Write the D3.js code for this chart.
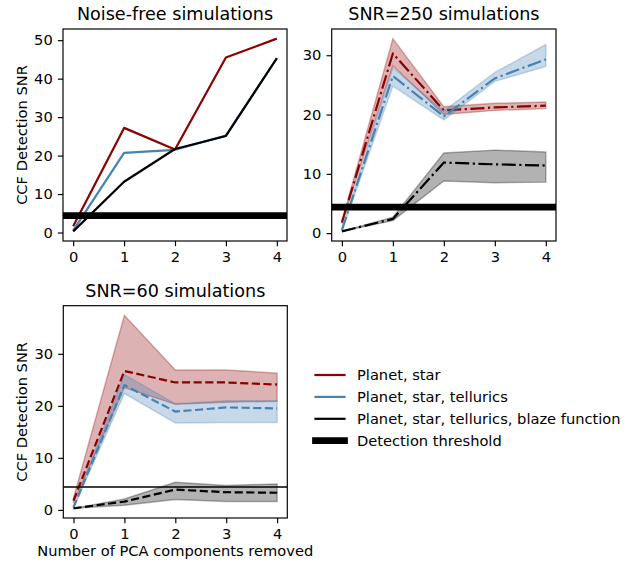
<!DOCTYPE html>
<html>
<head>
<meta charset="utf-8">
<script src="https://cdn.jsdelivr.net/npm/d3@7"></script>
<style>
  body { margin: 0; background: #fff; }
  svg text { font-family: "DejaVu Sans", sans-serif; fill: #000; }
</style>
</head>
<body>
<div id="chart"></div>
<script>
// data
const components = [0, 1, 2, 3, 4];
const threshold = 4.4;

// noise-free
const nfStar  = [1.6, 27.2, 21.6, 45.5, 50.4];
const nfTell  = [0.5, 20.7, 21.5, 25.2, 45.3];
const nfBlaze = [0.3, 13.2, 21.7, 25.1, 45.3];

// SNR=250 (mean, low, high)
const s250Star    = [1.8, 30.3, 20.7, 21.2, 21.5];
const s250StarLo  = [1.6, 28.2, 20.0, 20.7, 21.0];
const s250StarHi  = [2.0, 32.8, 21.3, 21.9, 22.1];
const s250Tell    = [0.5, 26.5, 19.7, 26.1, 29.3];
const s250TellLo  = [0.4, 24.8, 19.1, 25.6, 28.1];
const s250TellHi  = [0.6, 27.9, 20.6, 27.1, 31.8];
const s250Blaze   = [0.3, 2.4, 11.9, 11.6, 11.4];
const s250BlazeLo = [0.3, 2.1, 8.8, 8.5, 8.6];
const s250BlazeHi = [0.3, 2.7, 13.5, 14.0, 13.7];

// SNR=60 (mean, low, high)
const s60Star    = [1.8, 26.7, 24.5, 24.5, 24.1];
const s60StarLo  = [1.3, 23.5, 20.3, 20.7, 20.9];
const s60StarHi  = [2.3, 37.4, 26.9, 26.9, 26.3];
const s60Tell    = [0.5, 24.0, 18.9, 19.7, 19.5];
const s60TellLo  = [0.4, 22.4, 16.7, 16.8, 16.8];
const s60TellHi  = [0.6, 26.0, 20.4, 21.0, 21.0];
const s60Blaze   = [0.3, 1.6, 3.9, 3.4, 3.3];
const s60BlazeLo = [0.3, 0.9, 2.0, 1.6, 1.6];
const s60BlazeHi = [0.3, 2.1, 5.3, 4.7, 5.0];

const seriesNames = ["Planet, star", "Planet, star, tellurics", "Planet, star, tellurics, blaze function"];
const seriesColors = ["#8b0000", "#4682b4", "#000000"];

const W = 633, H = 563;
const svg = d3.select("#chart").append("svg")
    .attr("width", W).attr("height", H);

const px = 1.465; // pt -> px
const lw = 1.5 * px;
const fs = 10 * px, fsTitle = 12 * px;

const panels = [
    { title: "Noise-free simulations", box: [63, 287, 29, 241], yTicks: [0, 10, 20, 30, 40, 50],
      dash: null, ylabel: true, xlabel: false, thick: true,
      lines: [nfStar, nfTell, nfBlaze], bands: null },
    { title: "SNR=250 simulations", box: [331.7, 556, 29, 241], yTicks: [0, 10, 20, 30],
      dash: [6.4, 1.6, 1, 1.6].map(d => d * lw), ylabel: false, xlabel: false, thick: true,
      lines: [s250Star, s250Tell, s250Blaze],
      bands: [[s250StarLo, s250StarHi], [s250TellLo, s250TellHi], [s250BlazeLo, s250BlazeHi]] },
    { title: "SNR=60 simulations", box: [63.3, 287.3, 305.7, 518], yTicks: [0, 10, 20, 30],
      dash: [3.7, 1.6].map(d => d * lw), ylabel: true, xlabel: true, thick: false,
      lines: [s60Star, s60Tell, s60Blaze],
      bands: [[s60StarLo, s60StarHi], [s60TellLo, s60TellHi], [s60BlazeLo, s60BlazeHi]] }
];

panels.forEach(p => {
    const [l, r, t, b] = p.box;
    const x = d3.scaleLinear().domain([-0.2, 4.2]).range([l, r]);

    let all = p.lines.flat();
    if (p.bands) p.bands.forEach(bd => { all = all.concat(bd[0], bd[1]); });
    const [mn, mx] = d3.extent(all);
    const m = (mx - mn) * 0.05;
    const y = d3.scaleLinear().domain([mn - m, mx + m]).range([b, t]);

    const g = svg.append("g");
    const clipId = "clip" + Math.round(l) + Math.round(t);
    g.append("clipPath").attr("id", clipId)
        .append("rect").attr("x", l).attr("y", t).attr("width", r - l).attr("height", b - t);
    const plot = g.append("g").attr("clip-path", `url(#${clipId})`);

    const area = d3.area().x((d, i) => x(components[i])).y0(d => y(d[0])).y1(d => y(d[1]));
    const line = d3.line().x((d, i) => x(components[i])).y(d => y(d));

    p.lines.forEach((vals, k) => {
        if (p.bands) {
            const lo = p.bands[k][0], hi = p.bands[k][1];
            plot.append("path")
                .datum(lo.map((v, i) => [v, hi[i]]))
                .attr("d", area)
                .attr("fill", seriesColors[k]).attr("fill-opacity", 0.3)
                .attr("stroke", seriesColors[k]).attr("stroke-opacity", 0.3)
                .attr("stroke-width", px);
        }
        plot.append("path")
            .datum(vals)
            .attr("d", line)
            .attr("fill", "none")
            .attr("stroke", seriesColors[k])
            .attr("stroke-width", lw)
            .attr("stroke-linejoin", "round")
            .attr("stroke-dasharray", p.dash ? p.dash.join(",") : null);
    });

    // detection threshold
    plot.append("line")
        .attr("x1", l).attr("x2", r)
        .attr("y1", y(threshold)).attr("y2", y(threshold))
        .attr("stroke", "#000")
        .attr("stroke-width", p.thick ? 4.6 * px : 1 * px);

    // axes
    const xAxis = d3.axisBottom(x).tickValues(components).tickFormat(d3.format("d"))
        .tickSize(3.5 * px).tickPadding(3.5 * px);
    const yAxis = d3.axisLeft(y).tickValues(p.yTicks).tickFormat(d3.format("d"))
        .tickSize(3.5 * px).tickPadding(3.5 * px);
    const xa = g.append("g").attr("transform", `translate(0,${b})`).call(xAxis);
    const ya = g.append("g").attr("transform", `translate(${l},0)`).call(yAxis);
    [xa, ya].forEach(a => {
        a.select(".domain").remove();
        a.selectAll(".tick line").attr("stroke", "#000").attr("stroke-width", 0.8 * px);
        a.selectAll(".tick text").attr("font-size", fs).attr("font-family", "DejaVu Sans");
    });

    g.append("rect")
        .attr("x", l).attr("y", t).attr("width", r - l).attr("height", b - t)
        .attr("fill", "none").attr("stroke", "#000").attr("stroke-width", 0.8 * px);

    g.append("text")
        .attr("x", (l + r) / 2).attr("y", t - 8.6)
        .attr("text-anchor", "middle").attr("font-size", fsTitle)
        .text(p.title);

    if (p.ylabel) {
        g.append("text")
            .attr("transform", `translate(26.5,${(t + b) / 2}) rotate(-90)`)
            .attr("text-anchor", "middle").attr("font-size", fs)
            .text("CCF Detection SNR");
    }
    if (p.xlabel) {
        g.append("text")
            .attr("x", (l + r) / 2).attr("y", 556)
            .attr("text-anchor", "middle").attr("font-size", fs)
            .text("Number of PCA components removed");
    }
});

// legend
const legendItems = seriesNames.map((n, i) => ({ name: n, color: seriesColors[i], width: lw }))
    .concat([{ name: "Detection threshold", color: "#000", width: 4.6 * px }]);
const legendY = d3.scalePoint().domain(legendItems.map(d => d.name)).range([375, 440.7]);
const lg = svg.append("g");
legendItems.forEach(d => {
    const cy = legendY(d.name);
    lg.append("line")
        .attr("x1", 315.5).attr("x2", 344.5).attr("y1", cy).attr("y2", cy)
        .attr("stroke", d.color).attr("stroke-width", d.width)
        .attr("stroke-linecap", "square");
    lg.append("text")
        .attr("x", 357).attr("y", cy).attr("dy", "0.36em")
        .attr("font-size", fs)
        .text(d.name);
});
</script>
</body>
</html>
